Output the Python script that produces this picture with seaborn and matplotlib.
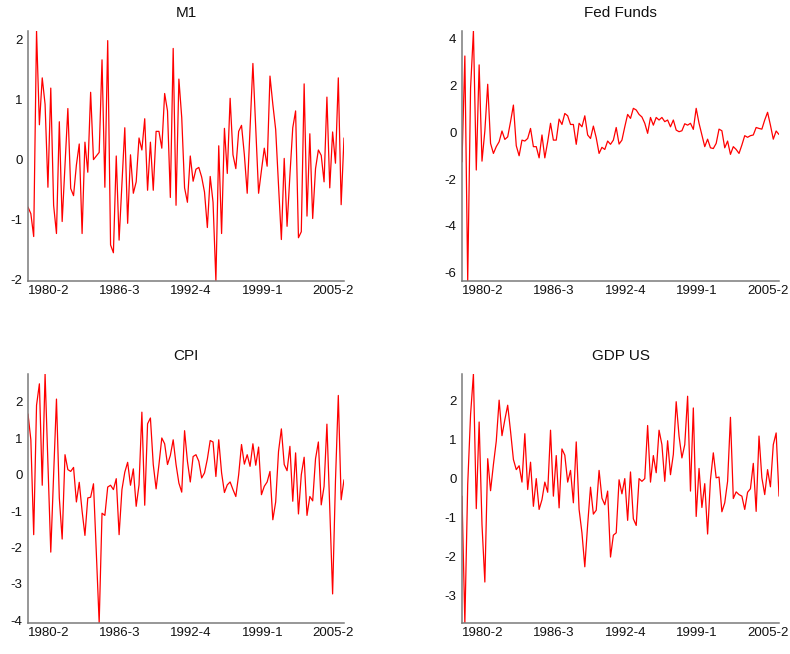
import matplotlib
matplotlib.use("Agg")
import matplotlib.pyplot as plt
from matplotlib.ticker import MultipleLocator
import numpy as np
import pandas as pd
import seaborn as sns

# Quarterly observations, 1980-2 onwards
quarters = [f"{p.year}-{p.quarter}" for p in pd.period_range("1980Q2", periods=112, freq="Q")]
tick_labels = ["1980-2", "1986-3", "1992-4", "1999-1", "2005-2"]

m1 = [-0.79, -0.90, -1.28, 2.14, 0.58, 1.36, 0.92, -0.46, 1.19, -0.76, -1.23, 0.63, -1.03, -0.09,
      0.85, -0.48, -0.60, -0.09, 0.26, -1.23, 0.29, -0.21, 1.12, 0.00, 0.06, 0.12, 1.66, -0.46,
      1.98, -1.42, -1.55, 0.06, -1.34, -0.40, 0.53, -1.06, 0.08, -0.56, -0.37, 0.36, 0.16, 0.68,
      -0.51, 0.29, -0.51, 0.47, 0.47, 0.19, 1.10, 0.81, -0.63, 1.85, -0.76, 1.34, 0.70, -0.47,
      -0.71, 0.06, -0.36, -0.16, -0.13, -0.29, -0.54, -1.13, -0.28, -0.71, -2.02, 0.23, -1.23,
      0.52, -0.23, 1.02, 0.08, -0.15, 0.47, 0.57, 0.08, -0.56, 0.52, 1.60, 0.52, -0.56, -0.18,
      0.19, -0.11, 1.39, 0.92, 0.50, -0.43, -1.33, 0.02, -1.11, -0.26, 0.53, 0.81, -1.30, -1.20,
      1.26, -0.94, 0.43, -0.98, -0.15, 0.16, 0.07, -0.37, 1.04, -0.47, 0.46, -0.06, 1.36, -0.75,
      0.36]

fed_funds = [-1.26, 3.27, -6.36, 1.89, 4.34, -1.61, 2.89, -1.23, 0.06, 2.06, -0.47, -0.90, -0.61,
             -0.40, 0.06, -0.30, -0.19, 0.46, 1.17, -0.57, -1.00, -0.33, -0.37, -0.26, 0.17, -0.61,
             -0.61, -1.09, -0.11, -1.09, -0.40, 0.39, -0.33, -0.33, 0.57, 0.34, 0.81, 0.71, 0.34,
             0.34, -0.51, 0.39, 0.24, 0.71, -0.11, -0.26, 0.27, -0.23, -0.90, -0.64, -0.73, -0.37,
             -0.51, -0.33, 0.21, -0.50, -0.33, 0.24, 0.77, 0.60, 1.03, 0.96, 0.77, 0.66, 0.39,
             -0.04, 0.64, 0.31, 0.64, 0.53, 0.64, 0.46, 0.53, 0.24, 0.53, 0.10, 0.03, 0.07, 0.37,
             0.31, 0.39, 0.13, 1.03, 0.39, -0.11, -0.61, -0.29, -0.66, -0.69, -0.47, 0.14, 0.07,
             -0.66, -0.37, -0.94, -0.61, -0.73, -0.90, -0.54, -0.14, -0.21, -0.14, -0.11, 0.21,
             0.17, 0.14, 0.53, 0.86, 0.31, -0.29, 0.06, -0.09]

cpi = [1.67, 0.96, -1.65, 1.91, 2.50, -0.29, 2.77, 0.30, -2.13, 0.00, 2.08, -0.64, -1.77, 0.55,
       0.14, 0.09, 0.20, -0.75, -0.21, -1.00, -1.67, -0.64, -0.62, -0.25, -2.15, -4.08, -1.06,
       -1.12, -0.34, -0.29, -0.41, -0.11, -1.65, -0.41, 0.07, 0.34, -0.29, 0.16, -0.87, -0.28,
       1.72, -0.84, 1.40, 1.56, 0.28, -0.39, 0.28, 1.01, 0.85, 0.28, 0.53, 0.96, 0.28, -0.23,
       -0.48, 1.21, 0.37, -0.20, 0.50, 0.55, 0.37, -0.09, 0.05, 0.43, 0.94, 0.90, -0.05, 0.96,
       0.05, -0.49, -0.28, -0.20, -0.41, -0.60, 0.00, 0.83, 0.29, 0.55, 0.23, 0.85, 0.26, 0.76,
       -0.55, -0.32, -0.20, 0.09, -1.24, -0.75, 0.64, 1.26, 0.28, 0.11, 0.78, -0.73, 0.60, -1.08,
       0.00, 0.48, -1.12, -0.60, -0.72, 0.44, 0.90, -0.83, -0.32, 1.39, -0.92, -3.28, -0.18,
       2.18, -0.69, -0.14]

gdp_us = [-0.45, -3.70, -0.15, 1.64, 2.68, -0.77, 1.45, -1.18, -2.65, 0.51, -0.31, 0.36, 0.96,
          2.01, 1.10, 1.51, 1.88, 1.21, 0.49, 0.23, 0.33, -0.09, 1.15, -0.28, 0.42, -0.71, 0.00,
          -0.79, -0.54, -0.09, -0.35, 1.24, -0.45, 0.59, -0.75, 0.76, 0.60, -0.09, 0.21, -0.62,
          0.94, -0.79, -1.39, -2.26, -1.18, -0.22, -0.91, -0.81, 0.21, -0.50, -0.67, -0.32, -2.01,
          -1.45, -1.39, -0.03, -0.39, 0.00, -1.07, 0.17, -1.03, -1.20, 0.00, -0.07, 0.00, 1.36,
          -0.09, 0.59, 0.15, 1.24, 0.87, -0.07, 0.97, 0.10, 0.62, 1.97, 1.09, 0.53, 0.87, 2.11,
          -0.32, 1.81, -0.97, 0.26, -0.74, -0.13, -1.42, -0.03, 0.66, 0.02, 0.04, -0.85, -0.62,
          -0.07, 1.57, -0.51, -0.34, -0.41, -0.45, -0.79, -0.35, -0.26, 0.39, -0.84, 1.09, 0.02,
          -0.41, 0.23, -0.21, 0.87, 1.17, -0.45]

titles = ["M1", "Fed Funds", "CPI", "GDP US"]
series = [m1, fed_funds, cpi, gdp_us]
ytick_steps = [1, 2, 1, 1]

sns.set_style("white")
plt.rcParams["font.family"] = ["Liberation Sans", "DejaVu Sans"]
plt.rcParams["axes.unicode_minus"] = False

fig = plt.figure(figsize=(7.9, 6.54), dpi=100)
rects = [
    (28 / 790, 1 - 281 / 654, 316 / 790, 250 / 654),
    (462 / 790, 1 - 281 / 654, 317 / 790, 250 / 654),
    (28 / 790, 1 - 623 / 654, 316 / 790, 249 / 654),
    (462 / 790, 1 - 623 / 654, 317 / 790, 249 / 654),
]

spine_col = "#7a7a7a"
for rect, title, vals, step in zip(rects, titles, series, ytick_steps):
    ax = fig.add_axes(rect)
    df = pd.DataFrame({"obs": np.arange(len(vals)), "value": vals, "quarter": quarters})
    sns.lineplot(data=df, x="obs", y="value", ax=ax, color="#ff0000", linewidth=0.9)
    ax.set_xlim(0, len(vals) - 1)
    ax.set_ylim(min(vals), max(vals))
    ax.yaxis.set_major_locator(MultipleLocator(step))
    ticks = [quarters.index(t) for t in tick_labels]
    ax.set_xticks(ticks)
    ax.set_xticklabels(tick_labels, ha="left")
    ax.set_xlabel("")
    ax.set_ylabel("")
    ax.set_title(title, fontsize=11, pad=10, color="#111111")
    sns.despine(ax=ax)
    for s in ("left", "bottom"):
        ax.spines[s].set_color(spine_col)
        ax.spines[s].set_linewidth(1.1)
    ax.tick_params(axis="both", direction="in", length=3, width=0.8, color="#222222",
                   labelsize=9.5, labelcolor="#111111")
    ax.tick_params(axis="x", pad=3)
    ax.tick_params(axis="y", pad=4)
    ax.grid(False)

fig.savefig("out.png", dpi=100, facecolor="white")
